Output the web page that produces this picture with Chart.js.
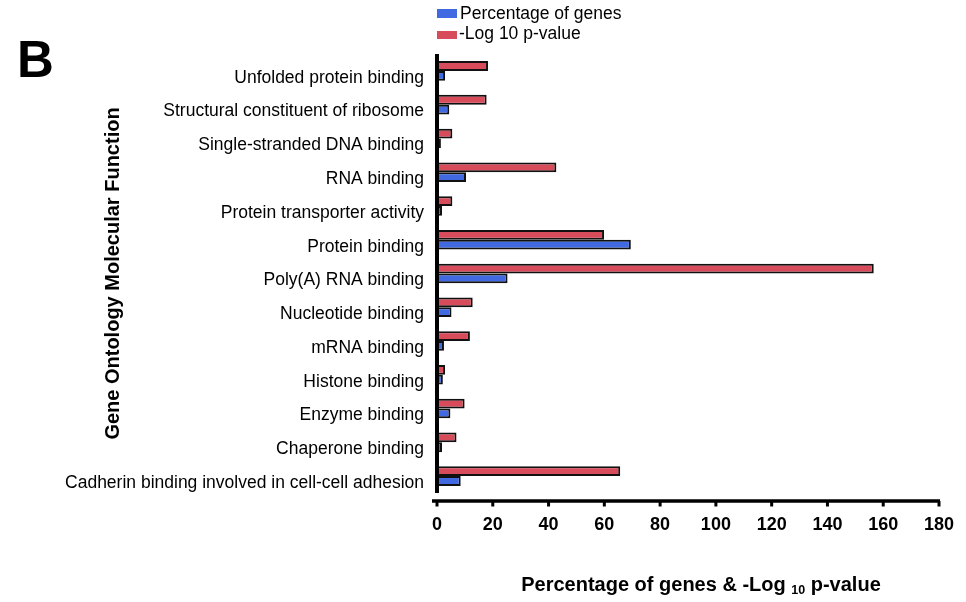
<!DOCTYPE html>
<html>
<head>
<meta charset="utf-8">
<title>Gene Ontology Molecular Function</title>
<script src="https://cdn.jsdelivr.net/npm/chart.js@4"></script>
<style>
  html, body { margin: 0; padding: 0; background: #fff; }
  #wrap { width: 966px; height: 602px; }
</style>
</head>
<body>
<div id="wrap"><canvas id="chart" width="966" height="602"></canvas></div>
<script>
// GO molecular function terms, top to bottom
const categories = [
  'Unfolded protein binding',
  'Structural constituent of ribosome',
  'Single-stranded DNA binding',
  'RNA binding',
  'Protein transporter activity',
  'Protein binding',
  'Poly(A) RNA binding',
  'Nucleotide binding',
  'mRNA binding',
  'Histone binding',
  'Enzyme binding',
  'Chaperone binding',
  'Cadherin binding involved in cell-cell adhesion'
];

// -Log10 p-value per term
const negLog10P = [18.3, 17.8, 5.5, 42.8, 5.5, 59.9, 156.6, 12.8, 11.8, 2.9, 9.9, 7.0, 65.7];

// Percentage of genes per term
const pctGenes = [2.9, 4.4, 1.4, 10.4, 1.8, 69.5, 25.3, 5.2, 2.5, 2.1, 4.8, 1.8, 8.5];

const xTicks = [0, 20, 40, 60, 80, 100, 120, 140, 160, 180];

const BLUE = '#4169E1';
const RED = '#D74B5B';
const FONT = '"Liberation Sans", Arial, Helvetica, sans-serif';

// Axis lines, x tick marks, panel letter, legend and x-axis title
const decorations = {
  id: 'decorations',
  afterDraw(chart) {
    const {ctx, chartArea} = chart;
    const xs = chart.scales.x;
    const x0 = xs.getPixelForValue(0);
    const axisY = chartArea.bottom + 8;
    ctx.save();
    ctx.strokeStyle = '#000';
    ctx.lineCap = 'butt';

    // vertical axis
    ctx.lineWidth = 4;
    ctx.beginPath();
    ctx.moveTo(x0, chartArea.top);
    ctx.lineTo(x0, chartArea.bottom);
    ctx.stroke();

    // horizontal axis
    ctx.lineWidth = 3.5;
    ctx.beginPath();
    ctx.moveTo(x0 - 5, axisY);
    ctx.lineTo(xs.getPixelForValue(180) + 1, axisY);
    ctx.stroke();

    // tick marks
    ctx.lineWidth = 3;
    xs.ticks.forEach(t => {
      const px = xs.getPixelForValue(t.value);
      ctx.beginPath();
      ctx.moveTo(px, axisY);
      ctx.lineTo(px, axisY + 5.5);
      ctx.stroke();
    });

    // panel letter
    ctx.fillStyle = '#000';
    ctx.textAlign = 'left';
    ctx.textBaseline = 'alphabetic';
    ctx.font = 'bold 51px ' + FONT;
    ctx.fillText('B', 17, 77);

    // legend
    const items = [
      {label: chart.data.datasets[1].label, color: chart.data.datasets[1].backgroundColor, boxTop: 9, boxH: 9, textX: 460, textY: 14},
      {label: chart.data.datasets[0].label, color: chart.data.datasets[0].backgroundColor, boxTop: 31, boxH: 8, textX: 459, textY: 34}
    ];
    ctx.font = '17.5px ' + FONT;
    ctx.textBaseline = 'middle';
    items.forEach(it => {
      ctx.fillStyle = it.color;
      ctx.fillRect(x0, it.boxTop, 20, it.boxH);
      ctx.fillStyle = '#000';
      ctx.fillText(it.label, it.textX, it.textY);
    });

    // x-axis title with subscript
    const partA = 'Percentage of genes & -Log ';
    const sub = '10';
    const partB = ' p-value';
    const big = 'bold 20px ' + FONT;
    const small = 'bold 12.5px ' + FONT;
    ctx.font = big;
    const wA = ctx.measureText(partA).width;
    const wB = ctx.measureText(partB).width;
    ctx.font = small;
    const wS = ctx.measureText(sub).width;
    const total = wA + wS + wB;
    const cx = 701;
    let tx = cx - total / 2;
    const baseY = 591;
    ctx.textBaseline = 'alphabetic';
    ctx.font = big;
    ctx.fillText(partA, tx, baseY);
    tx += wA;
    ctx.font = small;
    ctx.fillText(sub, tx, baseY + 3);
    tx += wS;
    ctx.font = big;
    ctx.fillText(partB, tx, baseY);
    ctx.restore();
  }
};

new Chart(document.getElementById('chart'), {
  type: 'bar',
  data: {
    labels: categories,
    datasets: [
      {
        label: '-Log 10 p-value',
        data: negLog10P,
        backgroundColor: RED,
        borderColor: '#111',
        borderWidth: 2,
        borderSkipped: false
      },
      {
        label: 'Percentage of genes',
        data: pctGenes,
        backgroundColor: BLUE,
        borderColor: '#111',
        borderWidth: 2,
        borderSkipped: false
      }
    ]
  },
  options: {
    indexAxis: 'y',
    responsive: false,
    animation: false,
    devicePixelRatio: 1,
    layout: { padding: { top: 54, left: 40, right: 27, bottom: 0 } },
    datasets: { bar: { categoryPercentage: 0.58, barPercentage: 1.0 } },
    plugins: {
      legend: { display: false },
      title: { display: false },
      tooltip: { enabled: false }
    },
    scales: {
      x: {
        type: 'linear',
        min: 0,
        max: 180,
        afterBuildTicks(scale) { scale.ticks = xTicks.map(v => ({ value: v })); },
        afterFit(scale) {
          scale.height = 109;
          scale.paddingLeft = 0;
          scale.paddingRight = 0;
        },
        grid: { display: false, drawTicks: false },
        border: { display: false },
        ticks: {
          padding: 21,
          color: '#000',
          font: { family: FONT, size: 18, weight: 'bold' },
          maxRotation: 0
        }
      },
      y: {
        type: 'category',
        offset: true,
        afterFit(scale) {
          scale.width = 397;
          scale.paddingTop = 0;
          scale.paddingBottom = 0;
        },
        grid: { display: false, drawTicks: false },
        border: { display: false },
        ticks: {
          padding: 13,
          labelOffset: 7,
          color: '#000',
          font: { family: FONT, size: 17.5 }
        },
        title: {
          display: true,
          text: 'Gene Ontology Molecular Function',
          color: '#000',
          padding: { top: 61, bottom: 4 },
          font: { family: FONT, size: 20, weight: 'bold' }
        }
      }
    }
  },
  plugins: [decorations]
});
</script>
</body>
</html>
